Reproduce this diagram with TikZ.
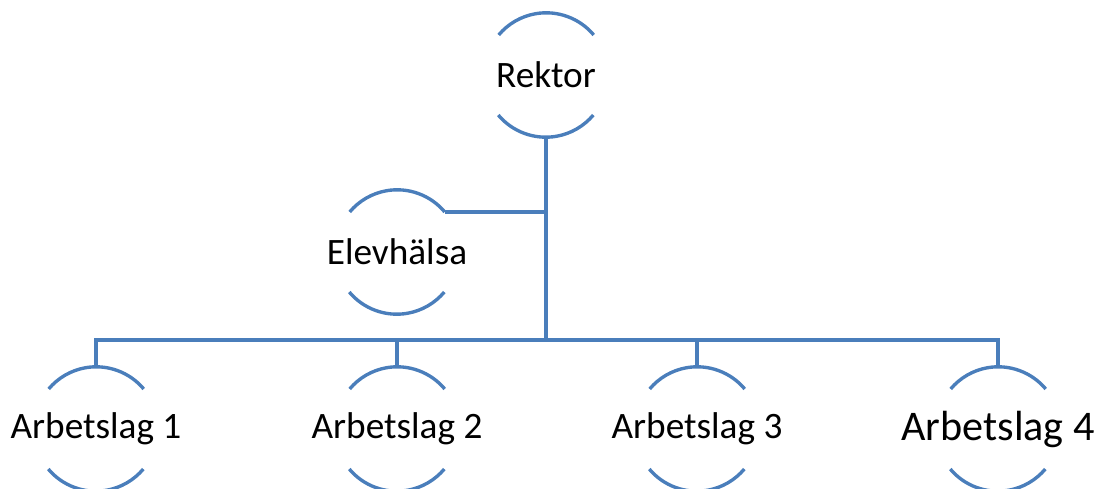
\documentclass[tikz,border=0pt]{standalone}
\usepackage{fontspec}
\setmainfont{Carlito}
\definecolor{orgblue}{HTML}{4A7EBB}
\tikzset{
  unit/.style={circle, minimum size=3.1cm, inner sep=0pt,
    label={[font=\fontsize{26.5}{30}\selectfont]center:#1}},
  bigunit/.style={circle, minimum size=3.1cm, inner sep=0pt,
    label={[font=\fontsize{30}{34}\selectfont]center:#1}},
  link/.style={draw=orgblue, line width=2.4pt},
}
% top and bottom arcs of a unit
\newcommand{\unitarcs}[1]{%
  \draw[link] (#1.40) arc[start angle=40, end angle=140, radius=1.55cm];
  \draw[link] (#1.220) arc[start angle=220, end angle=320, radius=1.55cm];}
\begin{document}
\begin{tikzpicture}[x=0.025cm, y=0.025cm]
    \useasboundingbox (0,0) rectangle (1099,488);
    \node[unit=Rektor] (rektor) at (546,413) {};
    \node[unit=Elevhälsa] (elev) at (397,236) {};
    \node[unit=Arbetslag 1] (lag1) at (96,59) {};
    \node[unit=Arbetslag 2] (lag2) at (397,59) {};
    \node[unit=Arbetslag 3] (lag3) at (697,59) {};
    \node[bigunit=Arbetslag 4] (lag4) at (998,59) {};
    \foreach \n in {rektor,elev,lag1,lag2,lag3,lag4}
        \unitarcs{\n}
    \coordinate (bar) at (546,148);
    \draw[link] (rektor.south) -- (bar);
    \draw[link] (elev.40) -- (elev.40 -| bar);
    \draw[link] (lag1.north) |- (bar) -| (lag4.north);
    \draw[link] (lag2.north) -- (lag2.north |- bar);
    \draw[link] (lag3.north) -- (lag3.north |- bar);
\end{tikzpicture}
\end{document}
